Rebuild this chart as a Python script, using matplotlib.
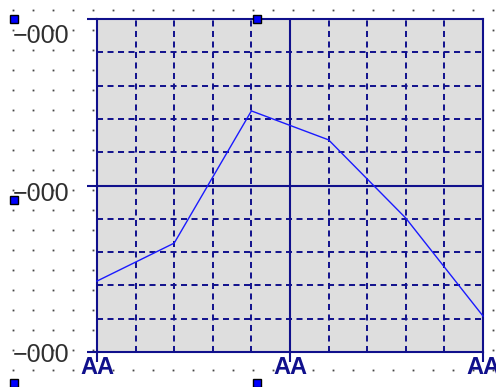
import numpy as np
import matplotlib
matplotlib.use("Agg")
import matplotlib.pyplot as plt
from matplotlib.transforms import ScaledTranslation

# data
x_vals = [0, 2, 4, 6, 8, 10]
y_vals = [21.3, 32.7, 72.4, 63.7, 40.2, 10.8]
x_ticks = [0, 5, 10]
x_labels = ["AA", "AA", "AA"]
y_ticks = [0, 50, 100]
y_labels = ["\u2212000", "\u2212000", "\u2212000"]

W, H = 496, 387
navy = "#10108c"
fig = plt.figure(figsize=(W / 100, H / 100), dpi=100)
fig.patch.set_facecolor("white")

def px(x, y):
    return x / W, 1 - y / H

# design-time dot grid behind everything
gx, gy = np.meshgrid(np.arange(13, W, 20), np.arange(10, H, 20))
fx, fy = px(gx.ravel(), gy.ravel())
fig.add_artist(plt.Line2D(fx, fy, ls="none", marker="s", ms=1.3, mfc="#444444",
                          mec="none", transform=fig.transFigure, zorder=0))

ax = fig.add_axes([97 / W, 35 / H, 386 / W, 333 / H], zorder=1)
ax.set_facecolor("#dedede")
ax.set_xlim(0, 10)
ax.set_ylim(0, 100)

# dashed grid
dash = (0, (3.1, 2.3))
for gxv in range(1, 10):
    if gxv != 5:
        ax.axvline(gxv, color=navy, lw=1.4, ls=dash, zorder=1)
for gyv in range(10, 100, 10):
    if gyv != 50:
        ax.axhline(gyv, color=navy, lw=1.4, ls=dash, zorder=1)
ax.axvline(5, color=navy, lw=1.5, zorder=1)
ax.axhline(50, color=navy, lw=1.5, zorder=1)

ax.plot(x_vals, y_vals, color="#1a1aff", lw=1.0, zorder=3, clip_on=False)

for s in ax.spines.values():
    s.set_color(navy)
    s.set_linewidth(1.5)

ax.set_xticks(x_ticks)
ax.set_xticklabels(x_labels, fontfamily="Liberation Sans", fontweight="bold",
                   fontsize=17, color=navy)
ax.set_yticks(y_ticks)
ax.set_yticklabels(y_labels, fontfamily="Liberation Sans", fontsize=18,
                   color="#303030")
ax.tick_params(axis="x", length=7.2, width=1.5, color=navy, pad=-4)
ax.tick_params(axis="y", length=7.2, width=1.5, color=navy, pad=13)
ax.xaxis.set_minor_locator(plt.NullLocator())

# y labels sit a bit lower than their ticks
shifts = [0, -4.3, -10.1]
for lab, dy in zip(ax.get_yticklabels(), shifts):
    lab.set_transform(lab.get_transform() + ScaledTranslation(0, dy / 72, fig.dpi_scale_trans))

# selection handles
hx = [13.7, 13.7, 13.7, 257, 257]
hy = [19, 200, 383, 19, 383]
for a, b in zip(hx, hy):
    u, v = px(a, b)
    fig.add_artist(plt.Line2D([u], [v], ls="none", marker="s", ms=5.5, mfc="#0000ff",
                              mec="black", mew=1.0, transform=fig.transFigure, zorder=5))

fig.savefig("out.png", dpi=100)
